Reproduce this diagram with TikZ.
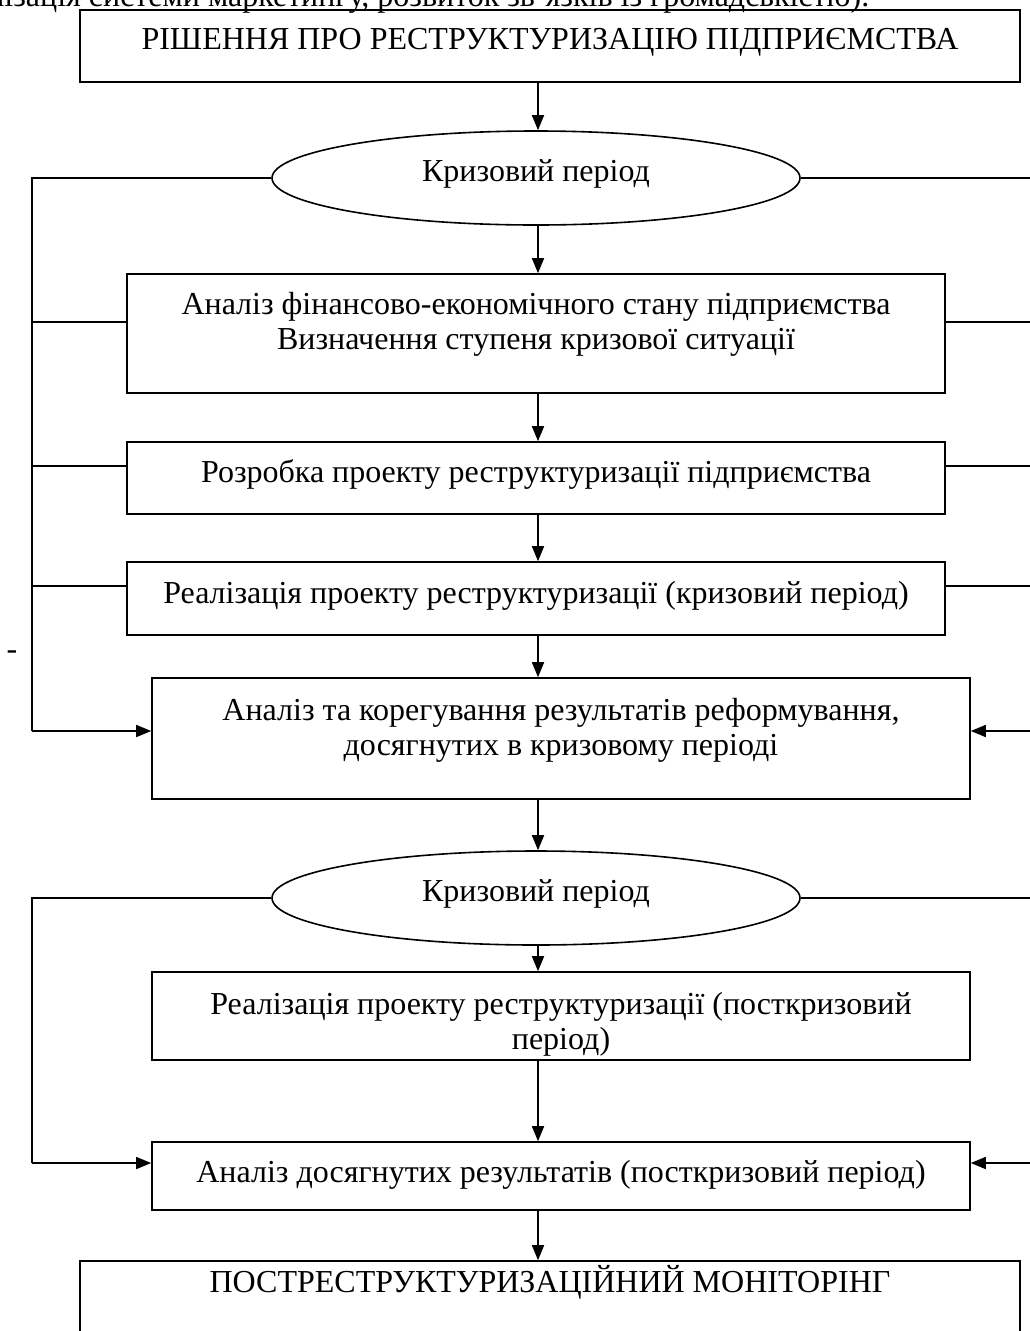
\documentclass[tikz,border=0pt]{standalone}
\usepackage{fontspec}
\setmainfont{Liberation Serif}
\usetikzlibrary{arrows.meta,shapes.geometric}
\newcommand\myfs{\fontsize{32}{35}\selectfont}
\begin{document}
\begin{tikzpicture}[x=1pt,y=-1pt,
  line width=1.6pt,
  box/.style={draw, rectangle, inner sep=0pt},
  oval/.style={draw, ellipse, inner sep=0pt, minimum width=528pt, minimum height=94pt, text depth=15pt, font=\myfs},
  txt/.style={inner sep=0pt, align=center, font=\myfs},
  arr/.style={-{Triangle[length=15pt,width=12pt]}},
]
\useasboundingbox (0,0) rectangle (1030,1331);
\fill[white] (0,0) rectangle (1030,1331);

% cut-off line of the page text above the scheme
\node[txt, anchor=base east] (top) at (870,6) {організація системи маркетингу, розвиток зв’язків із громадськістю).};

\node[box, minimum width=940pt, minimum height=72pt] (b1) at (550,46) {};
\node[txt, anchor=base] (t1) at (550,49) {РІШЕННЯ ПРО РЕСТРУКТУРИЗАЦІЮ ПІДПРИЄМСТВА};

\node[oval] (e1) at (536,178) {Кризовий період};

\node[box, minimum width=818pt, minimum height=119pt] (b2) at (536,333.5) {};
\node[txt] (t2) at (536,324) {Аналіз фінансово-економічного стану підприємства\\Визначення ступеня кризової ситуації};

\node[box, minimum width=818pt, minimum height=72pt] (b3) at (536,478) {};
\node[txt, anchor=base] (t3) at (536,482) {Розробка проекту реструктуризації підприємства};

\node[box, minimum width=818pt, minimum height=73pt] (b4) at (536,598.5) {};
\node[txt, anchor=base] (t4) at (536,603) {Реалізація проекту реструктуризації (кризовий період)};

\node[box, minimum width=818pt, minimum height=121pt] (b5) at (561,738.5) {};
\node[txt] (t5) at (561,730) {Аналіз та корегування результатів реформування,\\досягнутих в кризовому періоді};

\node[oval] (e2) at (536,898) {Кризовий період};

\node[box, minimum width=818pt, minimum height=88pt] (b6) at (561,1016) {};
\node[txt] (t6) at (561,1024) {Реалізація проекту реструктуризації (посткризовий\\період)};

\node[box, minimum width=818pt, minimum height=68pt] (b7) at (561,1176) {};
\node[txt, anchor=base] (t7) at (561,1182) {Аналіз досягнутих результатів (посткризовий період)};

\node[box, minimum width=940pt, minimum height=100pt] (b8) at (550,1311) {};
\node[txt, anchor=base] (t8) at (550,1292) {ПОСТРЕСТРУКТУРИЗАЦІЙНИЙ МОНІТОРІНГ};

\node[txt] (dash) at (12,655) {-};

% main vertical flow
\coordinate (ax) at (538,0);
\draw[arr] (b1.south -| ax) -- (e1.north -| ax);
\draw[arr] (e1.south -| ax) -- (b2.north -| ax);
\draw[arr] (b2.south -| ax) -- (b3.north -| ax);
\draw[arr] (b3.south -| ax) -- (b4.north -| ax);
\draw[arr] (b4.south -| ax) -- (b5.north -| ax);
\draw[arr] (b5.south -| ax) -- (e2.north -| ax);
\draw[arr] (e2.south -| ax) -- (b6.north -| ax);
\draw[arr] (b6.south -| ax) -- (b7.north -| ax);
\draw[arr] (b7.south -| ax) -- (b8.north -| ax);

% side buses, crisis period
\coordinate (L1) at (32,178);
\coordinate (R1) at (1033,178);
\coordinate (l2) at (32,322);
\coordinate (l3) at (32,466);
\coordinate (l4) at (32,586);
\coordinate (l5) at (32,731);
\coordinate (r5) at (1033,731);
\draw (e1.west) -- (L1) -- (l5);
\draw[arr] (l5) -- (b5.west |- l5);
\draw (e1.east) -- (R1) -- (r5);
\draw[arr] (r5) -- (b5.east |- r5);
\draw (b2.west |- l2) -- (l2);
\draw (b3.west |- l3) -- (l3);
\draw (b4.west |- l4) -- (l4);
\draw (b2.east |- l2) -- (l2 -| R1);
\draw (b3.east |- l3) -- (l3 -| R1);
\draw (b4.east |- l4) -- (l4 -| R1);

% side buses, post-crisis period
\coordinate (L2) at (32,898);
\coordinate (R2) at (1033,898);
\coordinate (l7) at (32,1163);
\coordinate (r7) at (1033,1163);
\draw (e2.west) -- (L2) -- (l7);
\draw[arr] (l7) -- (b7.west |- l7);
\draw (e2.east) -- (R2) -- (r7);
\draw[arr] (r7) -- (b7.east |- r7);
\end{tikzpicture}
\end{document}
